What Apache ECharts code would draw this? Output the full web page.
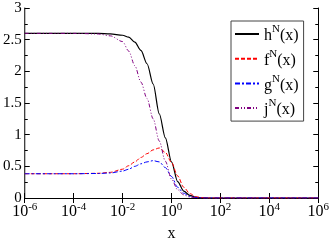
<!DOCTYPE html>
<html><head><meta charset="utf-8">
<script src="https://cdn.jsdelivr.net/npm/echarts@6/dist/echarts.min.js"></script>
<style>html,body{margin:0;padding:0;background:#fff}#c{width:332px;height:247px}</style>
</head><body><div id="c"></div>
<script>
const xValues = [1e-6, 1e-5, 1e-4, 1e-3, 3.16e-3, 1e-2, 1.78e-2, 3.16e-2, 5.62e-2, 0.1, 0.178, 0.316, 0.562, 1, 1.78, 3.16, 5.62, 10, 17.8, 31.6, 100, 1e3, 1e4, 1e5, 1e6];
const hValues = [2.60, 2.60, 2.60, 2.60, 2.59, 2.57, 2.54, 2.46, 2.33, 2.12, 1.80, 1.33, 0.95, 0.57, 0.26, 0.11, 0.04, 0.012, 0.003, 0.0, 0, 0, 0, 0, 0];
const fValues = [0.383, 0.383, 0.383, 0.39, 0.405, 0.455, 0.51, 0.57, 0.64, 0.70, 0.76, 0.79, 0.72, 0.56, 0.35, 0.17, 0.07, 0.02, 0.005, 0.0, 0, 0, 0, 0, 0];
const gValues = [0.383, 0.383, 0.383, 0.387, 0.395, 0.425, 0.455, 0.50, 0.54, 0.57, 0.59, 0.57, 0.48, 0.34, 0.17, 0.075, 0.025, 0.007, 0.002, 0.0, 0, 0, 0, 0, 0];
const jValues = [2.60, 2.60, 2.60, 2.59, 2.56, 2.47, 2.32, 2.09, 1.83, 1.57, 1.25, 0.90, 0.58, 0.30, 0.13, 0.05, 0.015, 0.004, 0.001, 0.0, 0, 0, 0, 0, 0];
const seriesNames = ['h', 'f', 'g', 'j'];
const yTickLabels = ['0', '0.5', '1', '1.5', '2', '2.5', '3'];

const FONT = 'Liberation Serif';
const pair = (vals) => xValues.map((x, i) => [x, vals[i]]);

const chart = echarts.init(document.getElementById('c'), null, {renderer: 'canvas'});
const axisCommon = {
  axisLine: {show: true, lineStyle: {color: '#000', width: 1}},
  splitLine: {show: false}
};
chart.setOption({
  animation: false,
  backgroundColor: '#fff',
  grid: {left: 24, right: 12, top: 8, bottom: 33, containLabel: false},
  legend: {
    orient: 'vertical', left: 231, top: 21,
    padding: [3, 5, 3, 3],
    borderColor: '#444', borderWidth: 1,
    itemWidth: 24, itemHeight: 10, itemGap: 4.7,
    itemStyle: {opacity: 0},
    data: seriesNames,
    formatter: (n) => '{b|' + n + '}{s|N}{b|(x)}',
    textStyle: {
      rich: {
        b: {fontFamily: FONT, fontSize: 16, color: '#000', lineHeight: 20, verticalAlign: 'bottom'},
        s: {fontFamily: FONT, fontSize: 11, color: '#000', lineHeight: 20, verticalAlign: 'top'}
      }
    }
  },
  xAxis: [{
    type: 'log', logBase: 10, min: 1e-6, max: 1e6, interval: 2, position: 'bottom',
    ...axisCommon,
    name: 'x', nameLocation: 'middle', nameGap: 28,
    nameTextStyle: {fontFamily: FONT, fontSize: 16, color: '#000'},
    axisTick: {show: true, inside: true, length: 5, lineStyle: {color: '#000'}},
    axisLabel: {
      margin: 4,
      formatter: (v) => '{b|10}{s|' + Math.round(Math.log10(v)) + '}',
      rich: {
        b: {fontFamily: FONT, fontSize: 16, color: '#000', lineHeight: 18, verticalAlign: 'bottom'},
        s: {fontFamily: FONT, fontSize: 11, color: '#000', lineHeight: 18, verticalAlign: 'top'}
      }
    }
  }, {
    type: 'log', logBase: 10, min: 1e-6, max: 1e6, interval: 2, position: 'top',
    ...axisCommon,
    axisTick: {show: true, inside: true, length: 5, lineStyle: {color: '#000'}},
    axisLabel: {show: false}
  }],
  yAxis: [{
    type: 'value', min: 0, max: 3, interval: 0.5, position: 'left',
    ...axisCommon,
    axisTick: {show: true, inside: true, length: 5, lineStyle: {color: '#000'}},
    minorTick: {show: true, splitNumber: 2, length: 3, lineStyle: {color: '#000'}},
    axisLabel: {
      margin: 3, fontFamily: FONT, fontSize: 15, color: '#000',
      formatter: (v) => yTickLabels[Math.round(v / 0.5)]
    }
  }, {
    type: 'value', min: 0, max: 3, interval: 0.5, position: 'right',
    ...axisCommon,
    axisTick: {show: true, inside: true, length: 5, lineStyle: {color: '#000'}},
    minorTick: {show: true, splitNumber: 2, length: 3, lineStyle: {color: '#000'}},
    axisLabel: {show: false}
  }],
  series: [
    {name: 'h', type: 'line', data: pair(hValues), smooth: 0.3, smoothMonotone: 'x', showSymbol: false, symbol: 'none',
     lineStyle: {color: '#000', width: 1.2, type: 'solid'}, itemStyle: {color: '#000'}},
    {name: 'f', type: 'line', data: pair(fValues), smooth: 0.3, smoothMonotone: 'x', showSymbol: false, symbol: 'none',
     lineStyle: {color: '#ff0000', width: 1, type: [4, 2]}, itemStyle: {color: '#ff0000'}},
    {name: 'g', type: 'line', data: pair(gValues), smooth: 0.3, smoothMonotone: 'x', showSymbol: false, symbol: 'none',
     lineStyle: {color: '#0000ff', width: 1, type: [5, 2, 2, 2]}, itemStyle: {color: '#0000ff'}},
    {name: 'j', type: 'line', data: pair(jValues), smooth: 0.3, smoothMonotone: 'x', showSymbol: false, symbol: 'none',
     lineStyle: {color: '#800080', width: 1, type: [4, 2, 1, 2, 1, 2]}, itemStyle: {color: '#800080'}}
  ]
});
</script>
</body></html>
